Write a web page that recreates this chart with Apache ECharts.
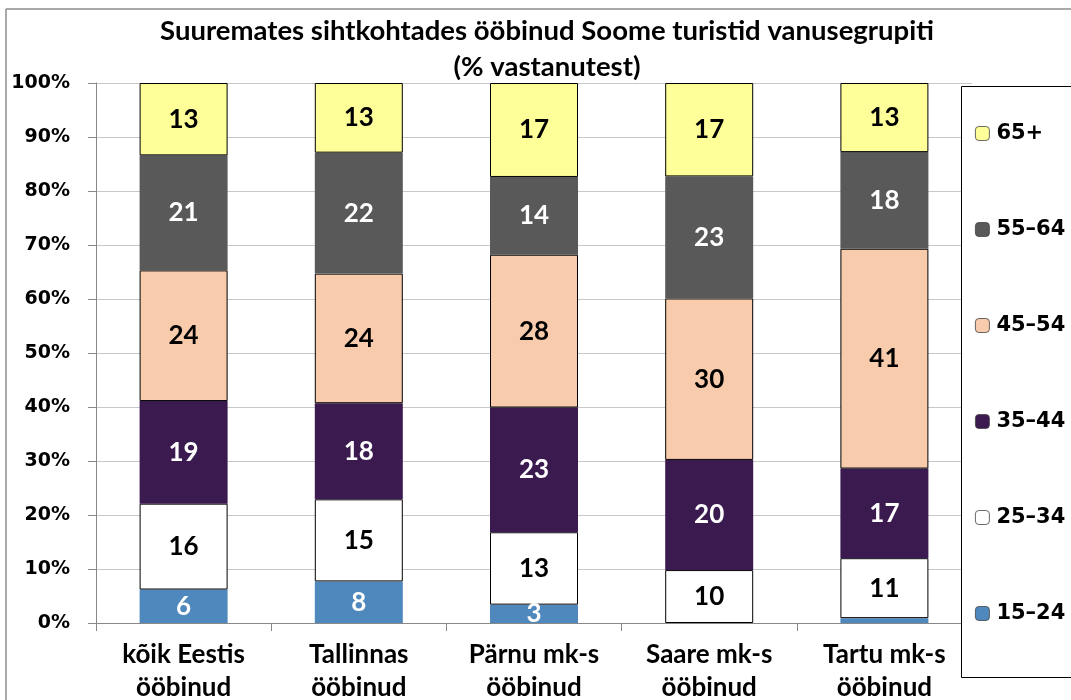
<!DOCTYPE html>
<html>
<head>
<meta charset="utf-8">
<script src="https://cdn.jsdelivr.net/npm/echarts@6/dist/echarts.min.js"></script>
<style>
html,body{margin:0;padding:0;background:#fff;}
#main{width:1071px;height:700px;}
</style>
</head>
<body>
<div id="main"></div>
<script>
var categories = ['kõik Eestis\nööbinud', 'Tallinnas\nööbinud', 'Pärnu mk-s\nööbinud', 'Saare mk-s\nööbinud', 'Tartu mk-s\nööbinud'];
var groups = ['15–24', '25–34', '35–44', '45–54', '55–64', '65+'];
// % of respondents per destination
var age15_24 = [6.2, 7.7, 3.4, 0, 0.9];
var age25_34 = [15.9, 15.2, 13.4, 9.8, 11.1];
var age35_44 = [19.0, 17.8, 23.1, 20.4, 16.6];
var age45_54 = [24.2, 24.0, 28.3, 29.9, 40.7];
var age55_64 = [21.3, 22.4, 14.4, 22.6, 17.9];
var age65 = [13.4, 12.9, 17.4, 17.3, 12.8];
var yTicks = [0, 10, 20, 30, 40, 50, 60, 70, 80, 90, 100];

var seriesData = [age15_24, age25_34, age35_44, age45_54, age55_64, age65];
var fills = ['#4f88bd', '#ffffff', '#3b1a50', '#f8cbad', '#595959', '#ffff99'];
var borders = [null, '#000', null, '#000', null, '#000'];
var labelColors = ['#fff', '#000', '#fff', '#000', '#fff', '#000'];

var myChart = echarts.init(document.getElementById('main'));

var series = [];
for (var i = 0; i < groups.length; i++) {
	series.push({
		name: groups[i],
		type: 'bar',
		stack: 'total',
		barWidth: 88,
		data: seriesData[i],
		itemStyle: {
			color: fills[i],
			borderColor: borders[i] || fills[i],
			borderWidth: borders[i] ? 1 : 0
		},
		label: {
			show: true,
			position: 'inside',
			color: labelColors[i],
			fontFamily: 'Lato',
			fontWeight: 'bold',
			fontSize: 26,
			formatter: function(p){
				return p.value < 1.5 ? '' : Math.round(p.value);
			}
		}
	});
}

var option = {
	animation: false,
	title: {
		text: 'Suuremates sihtkohtades ööbinud Soome turistid vanusegrupiti\n(% vastanutest)',
		left: 542,
		top: 8,
		textAlign: 'center',
		textStyle: {
			fontFamily: 'Lato',
			fontWeight: 'bold',
			fontSize: 27.5,
			lineHeight: 36,
			color: '#000'
		}
	},
	legend: {
		orient: 'vertical',
		left: 975,
		top: 123,
		z: 100,
		padding: 0,
		itemGap: 75,
		itemWidth: 14,
		itemHeight: 14,
		data: groups.slice().reverse(),
		textStyle: {
			fontFamily: 'DejaVu Sans',
			fontWeight: 'bold',
			fontSize: 21,
			lineHeight: 20,
			color: '#000',
			padding: [0, 0, 0, 2]
		},
		itemStyle: {borderColor: '#444', borderWidth: 0.8}
	},
	graphic: [
		{type: 'line', shape: {x1: 6, y1: 9, x2: 1071, y2: 9}, style: {stroke: '#8c8c8c', lineWidth: 1.5}},
		{type: 'line', shape: {x1: 6, y1: 9, x2: 6, y2: 700}, style: {stroke: '#8c8c8c', lineWidth: 1.5}},
		{type: 'rect', shape: {x: 961.5, y: 86.5, width: 200, height: 591}, style: {fill: '#fff', stroke: '#000', lineWidth: 1}, z: 50}
	],
	grid: {left: 96, right: 99, top: 83, bottom: 77, outerBoundsMode: 'none'},
	xAxis: {
		type: 'category',
		data: categories,
		axisLine: {lineStyle: {color: '#888'}},
		axisTick: {show: true, length: 8, lineStyle: {color: '#888'}},
		axisLabel: {
			interval: 0,
			hideOverlap: false,
			margin: 15,
			fontFamily: 'Lato',
			fontWeight: 'bold',
			fontSize: 26,
			lineHeight: 33,
			color: '#000'
		}
	},
	yAxis: {
		type: 'value',
		min: yTicks[0],
		max: yTicks[yTicks.length - 1],
		interval: 10,
		axisLine: {show: true, lineStyle: {color: '#888'}},
		axisTick: {show: true, length: 8, lineStyle: {color: '#888'}},
		splitLine: {lineStyle: {color: '#c8c8c8', width: 1}},
		axisLabel: {
			margin: 26,
			fontFamily: 'DejaVu Sans',
			fontWeight: 'bold',
			fontSize: 19,
			color: '#000',
			formatter: '{value}%'
		}
	},
	series: series
};
myChart.setOption(option);
</script>
</body>
</html>
